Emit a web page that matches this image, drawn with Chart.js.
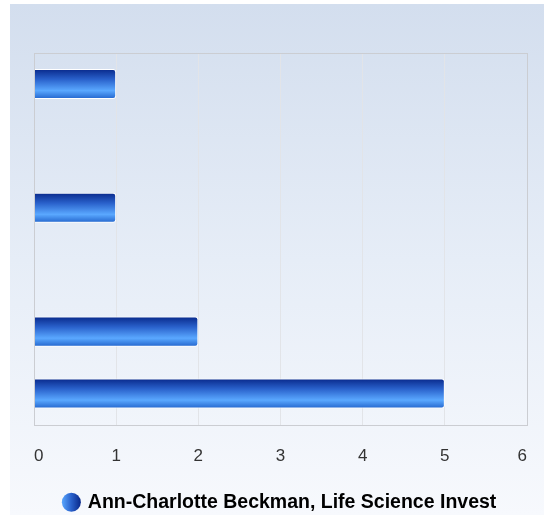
<!DOCTYPE html>
<html>
<head>
<meta charset="utf-8">
<script src="https://cdn.jsdelivr.net/npm/chart.js@4/dist/chart.umd.min.js"></script>
<style>
  html, body { margin: 0; padding: 0; background: #fff; }
  #wrap {
    position: absolute; left: 10px; top: 4px; width: 534px; height: 511px;
    background: linear-gradient(to bottom, #d3deee 0%, #e6edf7 50%, #f7f9fd 100%);
  }
  canvas { display: block; }
</style>
</head>
<body>
<div id="wrap"><canvas id="chart" width="534" height="511"></canvas></div>
<script>
// Dữ liệu
const categories = ['Kategori 1', 'Kategori 2', 'Kategori 3', 'Kategori 4', 'Kategori 5', 'Kategori 6']
const values = [1, null, 1, null, 2, 5]
const seriesName = 'Ann-Charlotte Beckman, Life Science Invest'
const xTicks = [0, 1, 2, 3, 4, 5, 6]

const fontFamily = "'Liberation Sans', Arial, sans-serif"

// Gradient cho từng thanh (theo chiều dọc)
function barGradient(context) {
  const chart = context.chart
  if (!chart.chartArea || !chart.scales.y) return '#2a6ad0'
  const meta = chart.getDatasetMeta(context.datasetIndex)
  const bar = meta.data[context.dataIndex]
  const yc = chart.scales.y.getPixelForValue(context.dataIndex)
  const h = bar && bar.height ? bar.height : 30
  const g = chart.ctx.createLinearGradient(0, yc - h / 2, 0, yc + h / 2)
  g.addColorStop(0, '#08288a')
  g.addColorStop(0.35, '#2a62cc')
  g.addColorStop(0.72, '#5aa8ff')
  g.addColorStop(1, '#2264cc')
  return g
}

// Viền khung vùng vẽ + gradient cho chấm chú thích
const frame = {
  id: 'frame',
  beforeDraw(chart) {
    const lg = chart.legend
    if (lg && lg.legendItems && lg.legendItems[0] && lg.legendHitBoxes && lg.legendHitBoxes[0]) {
      const hb = lg.legendHitBoxes[0]
      const g = chart.ctx.createLinearGradient(hb.left - 3, 0, hb.left + 16, 0)
      g.addColorStop(0, '#5aa8ff')
      g.addColorStop(0.5, '#2a62cc')
      g.addColorStop(1, '#08288a')
      lg.legendItems[0].fillStyle = g
      lg.legendItems[0].strokeStyle = g
    }
  },
  afterDraw(chart) {
    const a = chart.chartArea
    const c = chart.ctx
    c.save()
    c.strokeStyle = '#cbcdd2'
    c.lineWidth = 1
    c.strokeRect(Math.round(a.left) + 0.5, Math.round(a.top) + 0.5, Math.round(a.width), Math.round(a.height))
    c.restore()
  }
}

new Chart(document.getElementById('chart'), {
  type: 'bar',
  data: {
    labels: categories,
    datasets: [{
      label: seriesName,
      data: values,
      backgroundColor: barGradient,
      borderColor: '#ffffff',
      borderWidth: 1,
      borderRadius: { topRight: 3, bottomRight: 3, topLeft: 0, bottomLeft: 0 },
      borderSkipped: 'start',
      barPercentage: 0.97,
      categoryPercentage: 0.5
    }]
  },
  options: {
    indexAxis: 'y',
    responsive: false,
    animation: false,
    layout: { padding: { left: 24, right: 17, top: 49, bottom: -7 } },
    scales: {
      x: {
        min: 0,
        max: 6,
        afterBuildTicks: axis => { axis.ticks = xTicks.map(v => ({ value: v })) },
        afterFit: axis => {
          axis.height = 64
          axis.paddingLeft = 0
          axis.paddingRight = 0
        },
        grid: { color: '#e2e4e8', drawTicks: false },
        border: { display: false },
        ticks: {
          align: 'inner',
          padding: 22,
          color: '#333333',
          font: { family: fontFamily, size: 17 }
        }
      },
      y: { display: false }
    },
    plugins: {
      legend: {
        position: 'bottom',
        labels: {
          usePointStyle: true,
          pointStyle: 'circle',
          boxWidth: 13.4,
          boxHeight: 13.4,
          padding: 4,
          color: '#333333',
          font: { family: fontFamily, size: 19.5, weight: 'bold' },
          generateLabels: chart => [{
            text: seriesName,
            fillStyle: '#2a5fcc',
            strokeStyle: '#2a5fcc',
            lineWidth: 0,
            pointStyle: 'circle',
            datasetIndex: 0
          }]
        }
      },
      tooltip: { enabled: false }
    }
  },
  plugins: [frame]
})
</script>
</body>
</html>
